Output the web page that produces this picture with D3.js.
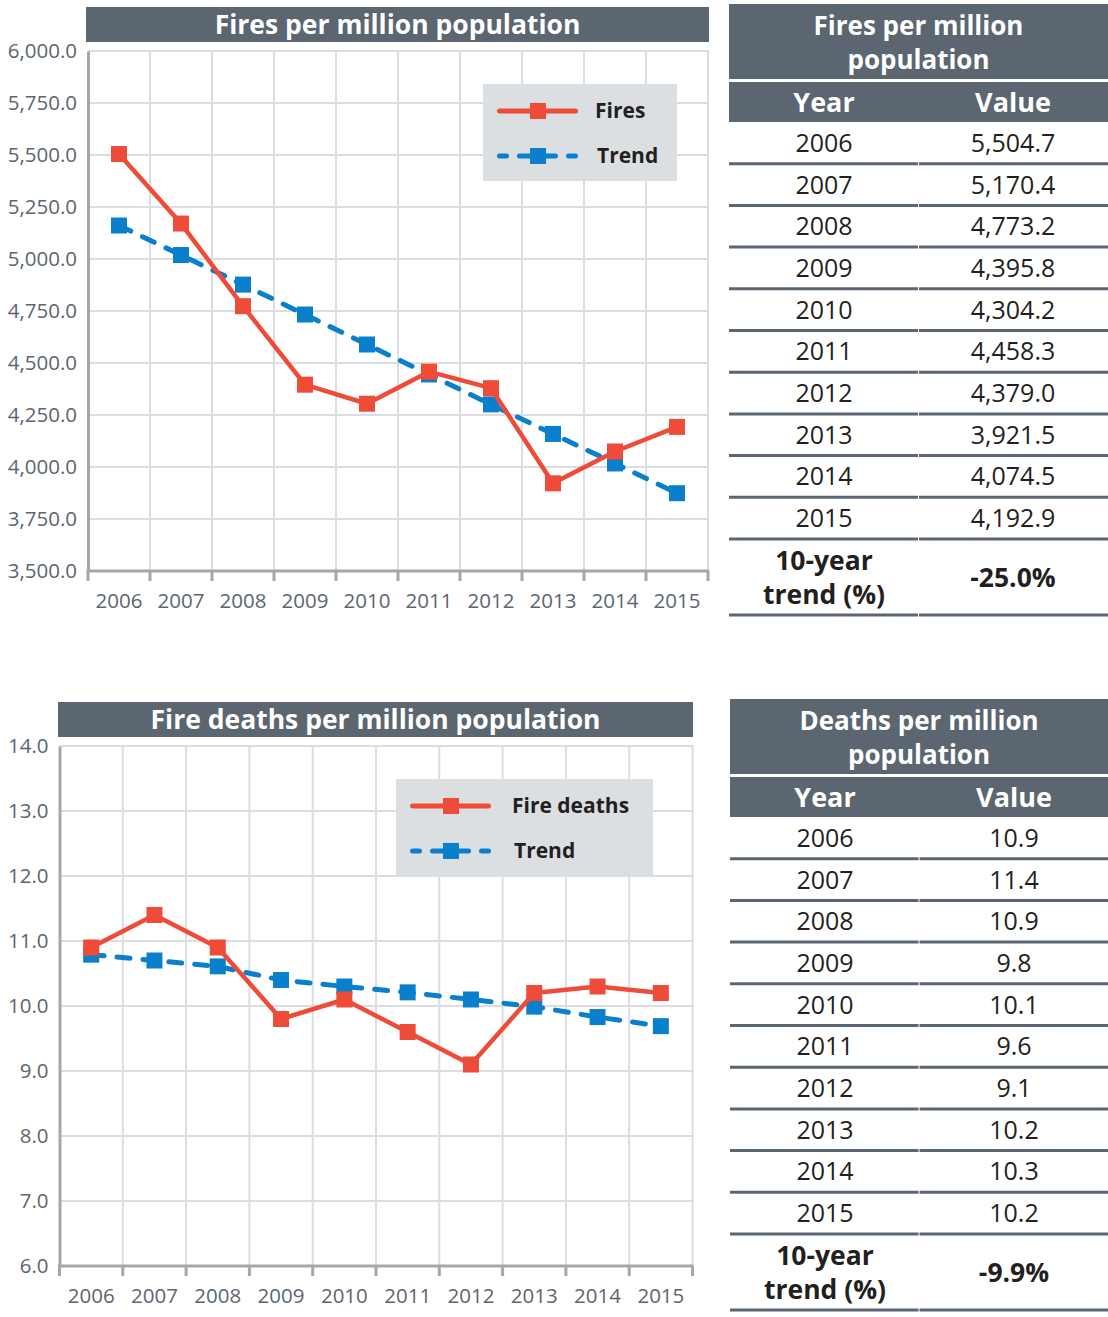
<!DOCTYPE html>
<html>
<head>
<meta charset="utf-8">
<script src="https://cdn.jsdelivr.net/npm/d3@7"></script>
<style>
  body { margin: 0; background: #fff; }
  text { font-family: "Open Sans", sans-serif; }
</style>
</head>
<body>
<svg id="chart" width="1108" height="1317"></svg>
<script>
// values
var years = [2006, 2007, 2008, 2009, 2010, 2011, 2012, 2013, 2014, 2015];
var fires = [5504.7, 5170.4, 4773.2, 4395.8, 4304.2, 4458.3, 4379.0, 3921.5, 4074.5, 4192.9];
var firesTrend = [5161, 5019, 4877, 4733, 4589, 4445, 4301, 4159, 4017, 3874];
var deaths = [10.9, 11.4, 10.9, 9.8, 10.1, 9.6, 9.1, 10.2, 10.3, 10.2];
var deathsTrend = [10.79, 10.70, 10.61, 10.40, 10.30, 10.21, 10.10, 9.99, 9.83, 9.69];
var firesTicks = [3500, 3750, 4000, 4250, 4500, 4750, 5000, 5250, 5500, 5750, 6000];
var deathsTicks = [6, 7, 8, 9, 10, 11, 12, 13, 14];
var firesChange = "-25.0%";
var deathsChange = "-9.9%";

var dark = "#5b6670",
  red = "#ee4b38",
  blue = "#0a80cc",
  gridCol = "#dcdde0",
  axisCol = "#a4a7ab",
  labelCol = "#5c6670",
  ink = "#231f20";

var svg = d3.select("#chart");

function lineChart(o) {
  var g = svg.append("g");
  var x = d3.scaleBand().domain(years).range([o.left, o.right]);
  var y = d3.scaleLinear()
    .domain([o.ticks[0], o.ticks[o.ticks.length - 1]])
    .range([o.bottom, o.top]);
  var bw = x.bandwidth();

  // title bar
  g.append("rect")
    .attr("x", o.barX).attr("y", o.barY)
    .attr("width", o.barW).attr("height", 35)
    .attr("fill", dark);
  g.append("text")
    .attr("x", o.barX + o.barW / 2)
    .attr("y", o.barY + 27)
    .attr("text-anchor", "middle")
    .attr("fill", "#fff")
    .attr("font-size", 26.5)
    .attr("font-weight", 700)
    .text(o.title);

  // grid
  g.append("g").selectAll("line")
    .data(o.ticks.slice(1))
    .enter().append("line")
    .attr("x1", o.left).attr("x2", o.right + 1)
    .attr("y1", function(d) { return y(d); })
    .attr("y2", function(d) { return y(d); })
    .attr("stroke", gridCol).attr("stroke-width", 2);
  g.append("g").selectAll("line")
    .data(years)
    .enter().append("line")
    .attr("x1", function(d) { return x(d) + bw; })
    .attr("x2", function(d) { return x(d) + bw; })
    .attr("y1", o.top).attr("y2", o.bottom)
    .attr("stroke", gridCol).attr("stroke-width", 2);

  // y axis
  var ya = g.append("g")
    .attr("transform", "translate(" + o.left + ",0)")
    .call(d3.axisLeft(y).tickValues(o.ticks).tickFormat(o.fmt)
      .tickSize(0).tickPadding(11));
  ya.select(".domain").attr("stroke", axisCol).attr("stroke-width", 3);
  ya.selectAll("text")
    .attr("font-family", "Open Sans")
    .attr("font-size", 20.5)
    .attr("fill", labelCol);

  // x axis
  var xa = g.append("g")
    .attr("transform", "translate(0," + o.bottom + ")")
    .call(d3.axisBottom(x).tickSize(0).tickPadding(22));
  xa.select(".domain").remove();
  xa.selectAll("text")
    .attr("font-family", "Open Sans")
    .attr("font-size", 20.5)
    .attr("fill", labelCol);
  g.append("line")
    .attr("x1", o.left - 1.5).attr("x2", o.right + 1)
    .attr("y1", o.bottom).attr("y2", o.bottom)
    .attr("stroke", axisCol).attr("stroke-width", 3);
  g.append("g").selectAll("line")
    .data([o.left].concat(years.map(function(d) { return x(d) + bw; })))
    .enter().append("line")
    .attr("x1", function(d) { return d; })
    .attr("x2", function(d) { return d; })
    .attr("y1", o.bottom).attr("y2", o.bottom + 10)
    .attr("stroke", axisCol).attr("stroke-width", 3);

  var line = d3.line()
    .x(function(d, i) { return x(years[i]) + bw / 2; })
    .y(function(d) { return y(d); });

  function series(vals, col, dash) {
    g.append("path")
      .datum(vals)
      .attr("fill", "none")
      .attr("stroke", col)
      .attr("stroke-width", dash ? 5 : 4.5)
      .attr("stroke-linecap", "round")
      .attr("stroke-linejoin", "round")
      .attr("stroke-dasharray", dash ? "13,13" : null)
      .attr("d", line);
    g.append("g").selectAll("rect")
      .data(vals)
      .enter().append("rect")
      .attr("x", function(d, i) { return x(years[i]) + bw / 2 - 8; })
      .attr("y", function(d) { return y(d) - 8; })
      .attr("width", 16).attr("height", 16)
      .attr("fill", col);
  }
  series(o.trend, blue, true);
  series(o.values, red, false);

  // legend
  var L = o.legend;
  g.append("rect")
    .attr("x", L.x).attr("y", L.y)
    .attr("width", L.w).attr("height", 97)
    .attr("fill", "#dcdfe2");
  [[o.name, red, false, 27], ["Trend", blue, true, 72]].forEach(function(it, k) {
    var ly = L.y + it[3];
    g.append("line")
      .attr("x1", L.x + 16.5).attr("x2", L.x + 92.5)
      .attr("y1", ly).attr("y2", ly)
      .attr("stroke", it[1]).attr("stroke-width", 5)
      .attr("stroke-linecap", "round")
      .attr("stroke-dasharray", it[2] ? "7,13,36,13,7" : null);
    g.append("rect")
      .attr("x", L.x + 55 - 8).attr("y", ly - 8)
      .attr("width", 16).attr("height", 16)
      .attr("fill", it[1]);
    g.append("text")
      .attr("x", L.x + L.tx + (k ? 2 : 0)).attr("y", ly + 7)
      .attr("font-size", 21)
      .attr("font-weight", 700)
      .attr("fill", ink)
      .text(it[0]);
  });
}

function dataTable(o) {
  var g = svg.append("g");
  var w = 1108 - o.x, mid = o.x + w / 2;
  var c1 = o.x + 95, c2 = o.x + 284;
  var rowH = 41.7;

  g.append("rect")
    .attr("x", o.x).attr("y", o.y)
    .attr("width", w).attr("height", 75)
    .attr("fill", dark);
  o.title.forEach(function(t, i) {
    g.append("text")
      .attr("x", mid).attr("y", o.y + 31 + i * 34)
      .attr("text-anchor", "middle")
      .attr("fill", "#fff")
      .attr("font-size", 26).attr("font-weight", 700)
      .text(t);
  });
  var hy = o.y + 78;
  g.append("rect")
    .attr("x", o.x).attr("y", hy)
    .attr("width", w).attr("height", 40)
    .attr("fill", dark);
  [["Year", c1], ["Value", c2]].forEach(function(h) {
    g.append("text")
      .attr("x", h[1]).attr("y", hy + 30)
      .attr("text-anchor", "middle")
      .attr("fill", "#fff")
      .attr("font-size", 27).attr("font-weight", 700)
      .text(h[0]);
  });

  var top = hy + 40;
  var rows = g.append("g").selectAll("g")
    .data(years)
    .enter().append("g")
    .attr("transform", function(d, i) { return "translate(0," + (top + i * rowH) + ")"; });
  rows.append("text")
    .attr("x", c1).attr("y", rowH / 2 + 9)
    .attr("text-anchor", "middle")
    .attr("font-size", 25).attr("fill", ink)
    .text(function(d) { return d; });
  rows.append("text")
    .attr("x", c2).attr("y", rowH / 2 + 9)
    .attr("text-anchor", "middle")
    .attr("font-size", 25).attr("fill", ink)
    .text(function(d, i) { return o.fmt(o.values[i]); });

  var lines = years.map(function(d, i) { return top + (i + 1) * rowH; });
  var endY = top + years.length * rowH + 76;
  lines.push(endY);
  g.append("g").selectAll("g")
    .data(lines)
    .enter().append("g")
    .each(function(ly) {
      d3.select(this).append("line")
        .attr("x1", o.x).attr("x2", mid - 0.5)
        .attr("y1", ly).attr("y2", ly)
        .attr("stroke", dark).attr("stroke-width", 3);
      d3.select(this).append("line")
        .attr("x1", mid + 0.5).attr("x2", 1108)
        .attr("y1", ly).attr("y2", ly)
        .attr("stroke", dark).attr("stroke-width", 3);
    });

  var ty = top + years.length * rowH;
  ["10-year", "trend (%)"].forEach(function(t, i) {
    g.append("text")
      .attr("x", c1).attr("y", ty + 31 + i * 34)
      .attr("text-anchor", "middle")
      .attr("font-size", 26.5).attr("font-weight", 700)
      .attr("fill", ink)
      .text(t);
  });
  g.append("text")
    .attr("x", c2).attr("y", ty + 48)
    .attr("text-anchor", "middle")
    .attr("font-size", 26.5).attr("font-weight", 700)
    .attr("fill", ink)
    .text(o.change);
}

lineChart({
  title: "Fires per million population",
  name: "Fires",
  barX: 86, barY: 7, barW: 623,
  left: 88, right: 708, top: 51, bottom: 571,
  ticks: firesTicks,
  fmt: d3.format(",.1f"),
  values: fires,
  trend: firesTrend,
  legend: { x: 483, y: 84, w: 194, tx: 112 }
});

lineChart({
  title: "Fire deaths per million population",
  name: "Fire deaths",
  barX: 58, barY: 702, barW: 635,
  left: 59.5, right: 692.5, top: 746, bottom: 1266,
  ticks: deathsTicks,
  fmt: d3.format(".1f"),
  values: deaths,
  trend: deathsTrend,
  legend: { x: 396, y: 779, w: 257, tx: 116 }
});

dataTable({
  x: 729, y: 4,
  title: ["Fires per million", "population"],
  values: fires,
  fmt: d3.format(",.1f"),
  change: firesChange
});

dataTable({
  x: 730, y: 699,
  title: ["Deaths per million", "population"],
  values: deaths,
  fmt: d3.format(".1f"),
  change: deathsChange
});
</script>
</body>
</html>
